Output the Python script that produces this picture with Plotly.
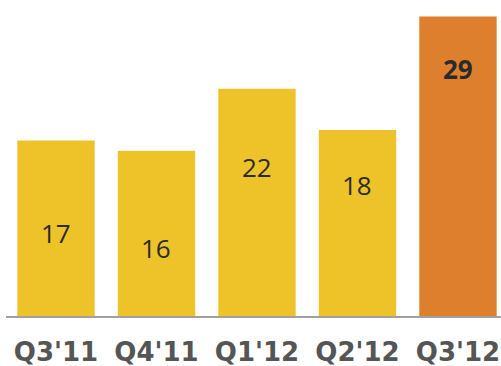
import plotly.graph_objects as go

# Quarterly figures
quarters = ["Q3'11", "Q4'11", "Q1'12", "Q2'12", "Q3'12"]
values = [17, 16, 22, 18, 29]
bar_colors = ["#EEC32A", "#EEC32A", "#EEC32A", "#EEC32A", "#DE7F2E"]
# vertical placement of each value label (data units)
label_y = [8.05, 6.6, 14.45, 12.7, 23.9]
label_bold = [False, False, False, False, True]

fig = go.Figure(
    go.Bar(
        x=quarters,
        y=values,
        marker=dict(color=bar_colors, line=dict(width=0)),
        width=0.77,
        hoverinfo="skip",
    )
)

for q, v, ly, b in zip(quarters, values, label_y, label_bold):
    fig.add_annotation(
        x=q, y=ly, text=f"<b>{v}</b>" if b else str(v),
        showarrow=False,
        font=dict(family="Open Sans", size=26, color="#2B2B2B"),
        xanchor="center", yanchor="middle",
    )

fig.update_layout(
    width=501, height=366,
    margin=dict(l=6, r=0, t=16, b=50),
    paper_bgcolor="white", plot_bgcolor="white",
    showlegend=False,
    xaxis=dict(
        range=[-0.4975, 4.428],
        showline=True, linecolor="#A0A0A0", linewidth=2,
        showgrid=False, zeroline=False, ticks="",
        tickfont=dict(family="DejaVu Sans", size=26, color="#555555", weight="bold"),
        ticklabelstandoff=12,
    ),
    yaxis=dict(
        range=[0, 29.05], visible=False, showgrid=False, zeroline=False,
    ),
)

fig.write_html("out.html")
